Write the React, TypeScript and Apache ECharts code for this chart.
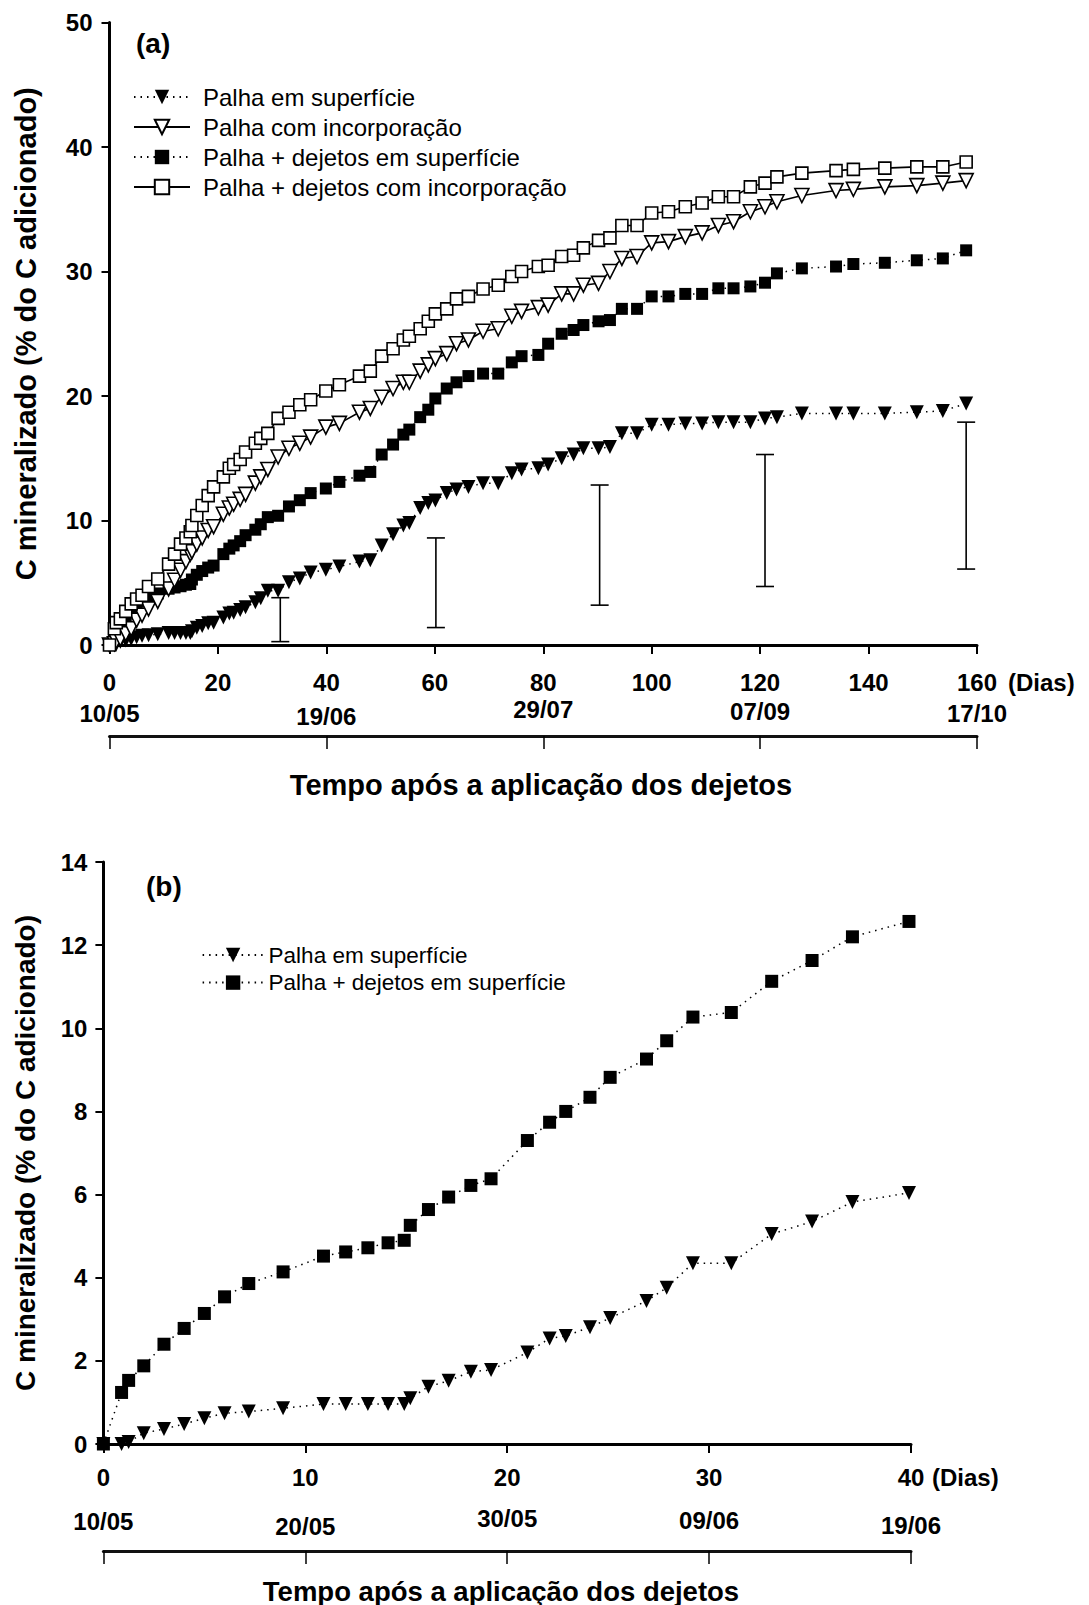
import React, { useEffect, useRef } from "react";
import * as echarts from "echarts";

const FONT = "'Liberation Sans', Arial, Helvetica, sans-serif";

// ---------- Panel (a) data ----------
const daysTop = [0, 0.9, 1.25, 2, 3, 4, 5, 6, 7.2, 8.9, 10.9, 12, 13.1, 14.1, 14.9, 15.2, 16.1, 17.1, 18.2, 19.2, 21, 22.1, 22.9, 24.1, 25.1, 26.9, 27.9, 29.2, 31.1, 33.1, 35.1, 37.1, 39.9,
  42.4, 46.1, 48.1, 50.2, 52.3, 54.2, 55.3, 57.3, 58.8, 60.1, 62.2, 64.0, 66.2, 68.9, 71.7, 74.2, 76.0, 79.1, 80.9, 83.4, 85.6, 87.4, 90.2, 92.3, 94.5, 97.3, 100.0, 103.1, 106.2, 109.3, 112.3, 115.1, 118.2, 120.9, 123.1, 127.7, 134.0, 137.2, 143.0, 148.9, 153.7, 158.0];

const palhaSuperficieA = [0, 0.0, 0.05, 0.26, 0.36, 0.48, 0.62, 0.74, 0.78, 0.86, 0.96, 0.96, 0.96, 0.96, 0.96, 1.1, 1.38, 1.52, 1.74, 1.78, 2.2, 2.54, 2.6, 2.81, 3.03, 3.44, 3.76, 4.35, 4.35, 5.05, 5.35, 5.82, 6.04,
  6.3, 6.7, 6.8, 8.0, 8.9, 9.6, 9.8, 11.0, 11.4, 11.6, 12.2, 12.5, 12.7, 13.0, 13.0, 13.8, 14.1, 14.2, 14.5, 15.0, 15.3, 15.8, 15.8, 15.9, 17.0, 17.0, 17.7, 17.7, 17.8, 17.8, 17.9, 17.9, 17.9, 18.2, 18.3, 18.6, 18.6, 18.6, 18.6, 18.7, 18.8, 19.4];

const palhaIncorporacaoA = [0, 0.1, 0.3, 0.5, 0.9, 1.3, 2.0, 2.4, 2.9, 3.5, 4.5, 5.2, 6.0, 6.7, 7.3, 7.5, 8.1, 8.6, 9.2, 9.5, 10.5, 11.0, 11.3, 11.7, 12.1, 13.0, 13.5, 14.1, 15.1, 15.8, 16.2, 16.7, 17.5,
  17.8, 18.7, 19.0, 19.9, 20.6, 21.1, 21.1, 22.0, 22.5, 23.0, 23.4, 24.2, 24.5, 25.2, 25.4, 26.4, 26.8, 27.1, 27.3, 28.2, 28.2, 28.9, 29.05, 30.0, 31.05, 31.2, 32.3, 32.4, 32.8, 33.1, 33.7, 34.0, 34.8, 35.2, 35.6, 36.1, 36.5, 36.6, 36.8, 36.9, 37.1, 37.3];

const dejetosSuperficieA = [0, 1.24, 1.53, 1.88, 2.4, 2.78, 3.14, 3.54, 3.86, 4.14, 4.52, 4.62, 4.72, 4.84, 4.9, 5.26, 5.64, 5.94, 6.22, 6.38, 7.3, 7.74, 8.0, 8.34, 8.82, 9.26, 9.7, 10.27, 10.38, 11.13, 11.63, 12.2, 12.57,
  13.1, 13.6, 13.9, 15.3, 16.1, 16.9, 17.3, 18.3, 18.9, 19.8, 20.6, 21.1, 21.6, 21.8, 21.8, 22.7, 23.2, 23.3, 24.2, 25.0, 25.3, 25.7, 26.0, 26.1, 27.0, 27.0, 28.0, 28.0, 28.2, 28.2, 28.65, 28.65, 28.8, 29.1, 29.85, 30.25, 30.4, 30.6, 30.7, 30.9, 31.05, 31.7];

const dejetosIncorporacaoA = [0, 1.3, 1.8, 2.1, 2.7, 3.3, 3.7, 4.0, 4.7, 5.3, 6.5, 7.3, 8.1, 8.6, 9.1, 9.6, 10.4, 11.2, 12.0, 12.7, 13.5, 14.2, 14.5, 14.9, 15.5, 16.2, 16.6, 17.0, 18.2, 18.7, 19.3, 19.7, 20.4,
  20.9, 21.6, 22.0, 23.2, 23.8, 24.5, 24.8, 25.4, 26.0, 26.6, 27.0, 27.8, 28.0, 28.6, 28.9, 29.6, 30.0, 30.4, 30.5, 31.2, 31.3, 31.9, 32.5, 32.7, 33.7, 33.7, 34.7, 34.8, 35.2, 35.5, 36.0, 36.0, 36.8, 37.1, 37.6, 37.9, 38.1, 38.2, 38.3, 38.4, 38.4, 38.8];

// error bars (LSD) panel (a)
const errDays = [31.5, 60.2, 90.4, 120.9, 158.0];
const errLow = [0.27, 1.4, 3.2, 4.7, 6.1];
const errHigh = [3.8, 8.6, 12.85, 15.3, 17.9];

const dateTicksA = ["10/05", "19/06", "29/07", "07/09", "17/10"];

// ---------- Panel (b) data ----------
const daysB = [0, 0.9, 1.25, 2, 3, 4, 5, 6, 7.2, 8.9, 10.9, 12, 13.1, 14.1, 14.9, 15.2, 16.1, 17.1, 18.2, 19.2, 21, 22.1, 22.9, 24.1, 25.1, 26.9, 27.9, 29.2, 31.1, 33.1, 35.1, 37.1, 39.9];
const palhaSuperficieB = [0, 0.0, 0.05, 0.26, 0.36, 0.48, 0.62, 0.74, 0.78, 0.86, 0.96, 0.96, 0.96, 0.96, 0.96, 1.1, 1.38, 1.52, 1.74, 1.78, 2.2, 2.54, 2.6, 2.81, 3.03, 3.44, 3.76, 4.35, 4.35, 5.05, 5.35, 5.82, 6.04];
const dejetosSuperficieB = [0, 1.24, 1.53, 1.88, 2.4, 2.78, 3.14, 3.54, 3.86, 4.14, 4.52, 4.62, 4.72, 4.84, 4.9, 5.26, 5.64, 5.94, 6.22, 6.38, 7.3, 7.74, 8.0, 8.34, 8.82, 9.26, 9.7, 10.27, 10.38, 11.13, 11.63, 12.2, 12.57];

const dateTicksB = ["10/05", "20/05", "30/05", "09/06", "19/06"];

const NAMES = [
  "Palha em superfície",
  "Palha com incorporação",
  "Palha + dejetos em superfície",
  "Palha + dejetos com incorporação",
];
const AXIS_TITLE_Y = "C mineralizado (% do C adicionado)";
const AXIS_TITLE_X = "Tempo após a aplicação dos dejetos";

function zip(xs: number[], ys: number[]) {
  return xs.map((x, i) => [x, ys[i]]);
}

function mkSeries(name: string, xs: number[], ys: number[], kind: "tri" | "sq", filled: boolean, dotted: boolean, axis: number, size: number) {
  return {
    type: "line",
    name,
    xAxisIndex: axis,
    yAxisIndex: axis,
    data: zip(xs, ys),
    symbol: kind === "tri" ? "triangle" : "rect",
    symbolRotate: kind === "tri" ? 180 : 0,
    symbolSize: size,
    showAllSymbol: true,
    lineStyle: dotted
      ? { color: "#000", width: 1.5, type: [1.5, 5] }
      : { color: "#000", width: 1.6, type: "solid" },
    itemStyle: filled
      ? { color: "#000", borderColor: "#000", borderWidth: 0 }
      : { color: "#fff", borderColor: "#000", borderWidth: 1.6 },
    emphasis: { disabled: true },
    z: filled ? 3 : 4,
  };
}

function valueAxisX(grid: number, max: number, interval: number, margin: number) {
  return {
    type: "value",
    gridIndex: grid,
    min: 0,
    max,
    interval,
    axisLine: { show: true, lineStyle: { color: "#000", width: 3 } },
    axisTick: { show: true, length: 9, lineStyle: { color: "#000", width: 2 } },
    axisLabel: { color: "#000", fontFamily: FONT, fontWeight: "bold", fontSize: 24, margin },
    splitLine: { show: false },
  };
}

// labels sit above the line; small per-label vertical offsets (px, + = lower) as in the figure
function dateAxis(grid: number, max: number, interval: number, labels: string[], offsets: number[], margin: number) {
  const rich: any = {};
  labels.forEach((_, i) => {
    rich["d" + i] = {
      fontFamily: FONT,
      fontWeight: "bold",
      fontSize: 24,
      color: "#000",
      padding: [0, 0, 6 - offsets[i], 0],
    };
  });
  return {
    type: "value",
    gridIndex: grid,
    position: "top",
    min: 0,
    max,
    interval,
    axisLine: { show: true, onZero: false, lineStyle: { color: "#111", width: 3 } },
    axisTick: { show: true, inside: true, length: 13, lineStyle: { color: "#000", width: 1.5 } },
    axisLabel: {
      color: "#000",
      fontFamily: FONT,
      fontWeight: "bold",
      fontSize: 24,
      margin,
      rich,
      formatter: (v: number) => {
        const i = Math.round(v / interval);
        return labels[i] ? `{d${i}|${labels[i]}}` : "";
      },
    },
    splitLine: { show: false },
  };
}

function valueAxisY(grid: number, max: number, interval: number, margin: number, nameGap: number, fs: number) {
  return {
    type: "value",
    gridIndex: grid,
    min: 0,
    max,
    interval,
    name: AXIS_TITLE_Y,
    nameLocation: "middle",
    nameRotate: 90,
    nameGap,
    nameTextStyle: { color: "#000", fontFamily: FONT, fontWeight: "bold", fontSize: fs },
    axisLine: { show: true, lineStyle: { color: "#000", width: 3 } },
    axisTick: { show: true, length: 8, lineStyle: { color: "#000", width: 2 } },
    axisLabel: { color: "#000", fontFamily: FONT, fontWeight: "bold", fontSize: 24, margin },
    splitLine: { show: false },
  };
}

function hiddenY(grid: number) {
  return { type: "value", gridIndex: grid, show: false, min: 0, max: 1 };
}

function txt(text: string, x: number, y: number, size: number, bold: boolean, align: string) {
  return {
    type: "text",
    x,
    y,
    silent: true,
    style: {
      text,
      fill: "#000",
      fontFamily: FONT,
      fontSize: size,
      fontWeight: bold ? "bold" : "normal",
      align,
      verticalAlign: "middle",
    },
  };
}

export default function App() {
  const ref = useRef<HTMLDivElement>(null);

  useEffect(() => {
    if (!ref.current) return;
    const chart = echarts.init(ref.current, null, { renderer: "svg" });

    const errData = errDays.map((d, i) => [d, errLow[i], errHigh[i]]);

    const option: any = {
      animation: false,
      backgroundColor: "#fff",
      grid: [
        { left: 109.5, top: 22.5, width: 867.5, height: 622.5 },
        { left: 109.5, top: 736, width: 867.5, height: 1 },
        { left: 103.4, top: 862, width: 807.6, height: 582 },
        { left: 103.4, top: 1551, width: 807.6, height: 1 },
      ],
      xAxis: [
        valueAxisX(0, 160, 20, 25),
        dateAxis(1, 160, 40, dateTicksA, [0, 3, -4, -2, 0], 5),
        valueAxisX(2, 40, 10, 21),
        dateAxis(3, 40, 10, dateTicksB, [-1, 4, -4, -2, 3], 11),
      ],
      yAxis: [
        valueAxisY(0, 50, 10, 17, 69, 29),
        hiddenY(1),
        valueAxisY(2, 14, 2, 16, 64, 28),
        hiddenY(3),
      ],
      legend: [
        {
          data: NAMES,
          orient: "vertical",
          left: 133,
          top: 84,
          padding: 0,
          itemWidth: 56,
          itemHeight: 18,
          itemGap: 4,
          selectedMode: false,
          textStyle: { color: "#000", fontFamily: FONT, fontSize: 24, lineHeight: 26, padding: [0, 0, 0, 8] },
        },
        {
          data: [NAMES[0], NAMES[2]],
          orient: "vertical",
          left: 201.6,
          top: 943,
          padding: 0,
          itemWidth: 61,
          itemHeight: 18,
          itemGap: 3.6,
          selectedMode: false,
          textStyle: { color: "#000", fontFamily: FONT, fontSize: 22.5, lineHeight: 24 },
        },
      ],
      graphic: [
        txt("(a)", 136, 43, 28, true, "left"),
        txt("(Dias)", 1008, 682, 24, true, "left"),
        txt(AXIS_TITLE_X, 541, 785, 29, true, "center"),
        txt("(b)", 146, 886, 28, true, "left"),
        txt("(Dias)", 932, 1477, 24, true, "left"),
        txt(AXIS_TITLE_X, 501, 1591, 27.5, true, "center"),
      ],
      series: [
        {
          type: "custom",
          name: "dms",
          xAxisIndex: 0,
          yAxisIndex: 0,
          data: errData,
          encode: { x: 0, y: [1, 2] },
          silent: true,
          z: 2,
          renderItem: (params: any, api: any) => {
            const x = api.value(0);
            const lo = api.coord([x, api.value(1)]);
            const hi = api.coord([x, api.value(2)]);
            const w = 9;
            const st = { stroke: "#000", lineWidth: 1.6 };
            return {
              type: "group",
              children: [
                { type: "line", shape: { x1: lo[0], y1: lo[1], x2: hi[0], y2: hi[1] }, style: st },
                { type: "line", shape: { x1: lo[0] - w, y1: lo[1], x2: lo[0] + w, y2: lo[1] }, style: st },
                { type: "line", shape: { x1: hi[0] - w, y1: hi[1], x2: hi[0] + w, y2: hi[1] }, style: st },
              ],
            };
          },
        },
        mkSeries(NAMES[0], daysTop, palhaSuperficieA, "tri", true, true, 0, 14),
        mkSeries(NAMES[1], daysTop, palhaIncorporacaoA, "tri", false, false, 0, 14),
        mkSeries(NAMES[2], daysTop, dejetosSuperficieA, "sq", true, true, 0, 12),
        mkSeries(NAMES[3], daysTop, dejetosIncorporacaoA, "sq", false, false, 0, 12),
        mkSeries(NAMES[0], daysB, palhaSuperficieB, "tri", true, true, 2, 14),
        mkSeries(NAMES[2], daysB, dejetosSuperficieB, "sq", true, true, 2, 13),
      ],
    };

    chart.setOption(option);
    return () => chart.dispose();
  }, []);

  return (
    <div
      ref={ref}
      style={{ position: "absolute", left: 0, top: 0, width: 1089, height: 1605, background: "#fff" }}
    />
  );
}
